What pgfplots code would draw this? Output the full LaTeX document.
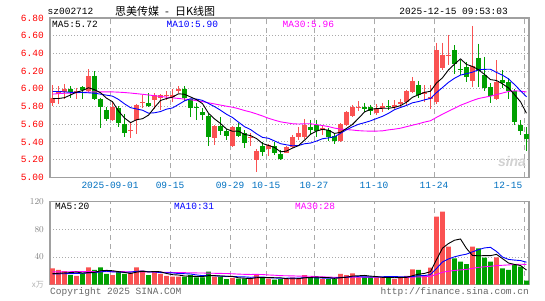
\documentclass[border=0pt]{standalone}
\usepackage{pgfplots}
\pgfplotsset{compat=1.18}
\usepackage{pgfplotstable}
\usepackage{fontspec}
\setmainfont{Liberation Mono}
\newfontfamily\cjk{Noto Sans CJK SC}
\newfontfamily\sans{Liberation Sans}
\newcommand{\fs}{\fontsize{9.5}{11}\selectfont}
\definecolor{cred}{RGB}{250,82,82}
\definecolor{cgreen}{RGB}{0,160,0}
\definecolor{cgrid}{RGB}{170,170,170}
\definecolor{cbox}{RGB}{160,160,160}
\definecolor{cdate}{RGB}{0,112,192}
\definecolor{cmag}{RGB}{255,0,255}

% red (close >= open) candles: k open high low close volume
\pgfplotstableread{
k O H L C V
0 5.84 6.04 5.80 5.90 23.7
1 5.94 6.03 5.83 5.98 21.3
2 5.96 6.05 5.88 6.00 19.8
4 5.96 6.01 5.89 5.97 12.6
6 5.98 6.22 5.96 6.14 25.1
10 5.65 5.85 5.64 5.79 14.0
13 5.52 5.62 5.44 5.53 17.4
14 5.65 5.83 5.49 5.82 25.1
15 5.84 5.93 5.78 5.85 20.3
17 5.87 5.95 5.77 5.93 18.8
18 5.90 5.94 5.76 5.93 15.5
19 5.92 5.97 5.87 5.93 12.6
20 5.91 6.00 5.85 5.93 11.6
21 5.97 6.03 5.95 6.00 11.6
27 5.44 5.59 5.37 5.58 11.6
30 5.35 5.58 5.34 5.57 9.7
33 5.44 5.50 5.35 5.46 8.7
34 5.20 5.32 5.06 5.30 14.5
36 5.32 5.38 5.24 5.36 8.7
39 5.28 5.35 5.27 5.34 8.2
40 5.34 5.48 5.33 5.46 10.6
41 5.45 5.57 5.42 5.50 9.2
42 5.46 5.66 5.43 5.59 14.0
45 5.53 5.59 5.48 5.56 8.2
48 5.41 5.61 5.40 5.60 15.5
49 5.59 5.75 5.58 5.74 14.0
50 5.69 5.82 5.68 5.79 16.4
51 5.78 5.86 5.75 5.79 10.6
54 5.73 5.83 5.70 5.78 10.6
55 5.78 5.84 5.74 5.81 10.6
57 5.79 5.87 5.77 5.82 8.2
58 5.83 5.89 5.78 5.85 11.6
59 5.85 5.99 5.82 5.97 12.6
60 5.96 6.13 5.95 6.09 22.2
62 5.94 6.04 5.85 5.96 14.0
63 5.88 6.04 5.77 5.91 24.6
64 5.85 6.52 5.83 6.44 98.4
65 6.23 6.52 6.21 6.38 105.5
66 6.37 6.61 6.27 6.38 55.0
70 6.09 6.71 6.02 6.26 55.0
74 5.89 6.32 5.87 6.08 39.6
}\redtab

% green (close < open) candles
\pgfplotstableread{
k O H L C V
3 6.00 6.03 5.90 5.96 14.0
5 6.02 6.03 5.89 5.99 16.4
7 6.15 6.20 5.87 5.89 21.3
8 5.88 5.90 5.56 5.79 25.1
9 5.76 5.79 5.64 5.66 15.5
11 5.78 5.80 5.57 5.61 18.8
12 5.60 5.71 5.45 5.50 15.5
16 5.84 5.95 5.79 5.81 14.0
22 6.00 6.03 5.86 5.90 11.6
23 5.88 5.89 5.68 5.78 14.0
24 5.79 5.84 5.65 5.78 10.6
25 5.74 5.78 5.65 5.70 10.6
26 5.69 5.72 5.35 5.46 18.8
28 5.58 5.68 5.48 5.52 11.6
29 5.52 5.55 5.42 5.47 8.2
31 5.57 5.61 5.46 5.47 8.7
32 5.50 5.53 5.33 5.39 8.7
35 5.35 5.40 5.24 5.29 11.1
37 5.35 5.40 5.25 5.28 7.3
38 5.26 5.31 5.19 5.21 8.2
43 5.57 5.65 5.48 5.54 10.6
44 5.59 5.65 5.45 5.52 10.6
46 5.53 5.56 5.41 5.45 8.2
47 5.47 5.50 5.38 5.41 8.2
52 5.79 5.84 5.74 5.77 10.6
53 5.79 5.82 5.70 5.75 10.6
56 5.80 5.87 5.76 5.79 10.6
61 6.04 6.09 5.90 5.93 21.3
67 6.44 6.49 6.17 6.28 38.1
68 6.22 6.33 6.16 6.21 33.3
69 6.25 6.30 6.08 6.13 29.9
71 6.35 6.51 6.02 6.20 52.6
72 6.16 6.36 5.98 6.01 39.1
73 6.02 6.06 5.84 5.92 33.3
75 6.10 6.21 6.01 6.07 23.7
76 6.08 6.12 5.89 5.97 21.3
77 5.98 6.00 5.59 5.63 28.5
78 5.59 5.65 5.48 5.52 26.0
79 5.49 5.57 5.30 5.43 5.8
}\greentab

% moving averages: price MA5/10/30, volume MA5/10/30
\pgfplotstableread{
k ma5 ma10 ma30 vma5 vma10 vma30
0 5.89 5.97 5.94 16.0 15.5 18.5
1 5.89 5.97 5.945 16.5 15.7 18.6
2 5.90 5.965 5.95 17.0 15.9 18.7
3 5.93 5.96 5.95 17.5 16.0 18.8
4 5.962 5.96 5.955 18.3 16.3 18.8
5 5.980 5.958 5.96 16.8 16.6 18.8
6 6.012 5.955 5.963 17.6 17.0 18.9
7 5.990 5.95 5.965 17.9 17.5 18.9
8 5.956 5.94 5.966 20.1 18.5 18.9
9 5.894 5.928 5.966 20.7 19.5 18.9
10 5.854 5.917 5.965 20.2 18.5 18.9
11 5.748 5.880 5.962 18.9 18.3 18.8
12 5.670 5.830 5.958 17.8 17.8 18.8
13 5.618 5.787 5.952 16.2 18.2 18.7
14 5.650 5.772 5.945 18.2 19.4 18.7
15 5.662 5.758 5.938 19.4 19.8 18.6
16 5.702 5.725 5.930 18.5 18.7 18.5
17 5.788 5.729 5.922 19.1 18.5 18.3
18 5.868 5.743 5.914 18.7 17.5 18.1
19 5.890 5.770 5.906 16.2 17.2 17.9
20 5.906 5.784 5.898 14.5 17.0 17.7
21 5.944 5.823 5.891 14.0 16.2 17.5
22 5.938 5.863 5.884 12.6 15.9 17.4
23 5.908 5.888 5.876 12.3 15.5 17.2
24 5.878 5.884 5.866 11.9 14.1 17.0
25 5.832 5.869 5.855 11.7 13.1 16.9
26 5.724 5.834 5.842 13.1 13.6 16.7
27 5.660 5.799 5.829 13.1 12.9 16.5
28 5.608 5.758 5.816 12.6 12.5 16.3
29 5.546 5.712 5.803 12.2 12.0 16.2
30 5.520 5.676 5.792 12.0 11.8 15.8
31 5.522 5.623 5.775 10.0 11.5 15.3
32 5.484 5.572 5.755 9.4 11.3 15.0
33 5.472 5.540 5.738 8.8 10.7 14.8
34 5.438 5.492 5.716 10.1 11.1 14.9
35 5.382 5.451 5.693 10.3 11.2 14.7
36 5.360 5.441 5.667 10.3 10.2 14.1
37 5.338 5.411 5.646 10.1 9.7 13.7
38 5.288 5.380 5.627 10.0 9.4 13.1
39 5.296 5.367 5.616 8.7 9.4 12.9
40 5.330 5.356 5.605 8.6 9.5 12.8
41 5.358 5.359 5.602 8.7 9.5 12.4
42 5.420 5.379 5.605 10.0 10.1 12.4
43 5.486 5.387 5.605 10.5 10.2 12.2
44 5.522 5.409 5.595 11.0 9.9 11.7
45 5.542 5.436 5.585 10.5 9.6 11.3
46 5.532 5.445 5.573 10.3 9.5 11.1
47 5.496 5.458 5.556 9.2 9.6 10.7
48 5.508 5.497 5.545 10.1 10.3 10.7
49 5.552 5.537 5.539 10.8 10.9 10.8
50 5.598 5.570 5.534 12.5 11.5 10.9
51 5.666 5.599 5.527 12.9 11.6 10.9
52 5.738 5.617 5.523 13.4 11.3 10.9
53 5.768 5.638 5.522 12.4 11.3 10.8
54 5.776 5.664 5.522 11.8 11.3 10.8
55 5.780 5.689 5.525 10.6 11.5 10.8
56 5.780 5.723 5.536 10.6 11.8 10.5
57 5.790 5.764 5.544 10.1 11.8 10.4
58 5.810 5.789 5.555 10.3 11.4 10.4
59 5.848 5.812 5.572 10.7 11.2 10.5
60 5.904 5.842 5.589 13.0 11.8 10.9
61 5.932 5.856 5.605 15.2 12.9 11.3
62 5.960 5.875 5.624 16.3 13.2 11.5
63 5.972 5.891 5.639 18.9 14.6 12.1
64 6.066 5.957 5.677 36.1 23.4 14.9
65 6.124 6.014 5.713 52.8 32.9 18.0
66 6.214 6.073 5.747 59.5 37.3 19.5
67 6.278 6.119 5.780 64.3 40.3 20.6
68 6.338 6.155 5.814 66.1 42.5 21.4
69 6.276 6.171 5.840 52.4 44.2 22.1
70 6.252 6.188 5.867 42.3 47.5 23.6
71 6.216 6.215 5.890 41.8 50.6 25.1
72 6.162 6.220 5.904 42.0 53.2 25.9
73 6.104 6.221 5.917 42.0 54.0 26.6
74 6.094 6.185 5.935 43.9 48.1 27.6
75 6.056 6.154 5.952 37.7 40.0 28.1
76 6.010 6.113 5.970 31.4 36.6 28.6
77 5.934 6.048 5.977 29.3 35.6 29.2
78 5.854 5.979 5.974 27.8 34.9 29.6
79 5.724 5.909 5.964 21.1 32.5 29.3
}\matab

\pgfplotsset{
  kbase/.style={
    scale only axis, width=479pt,
    xmin=-0.42, xmax=79.42,
    axis line style={draw=cbox, line width=1.2pt},
    major tick length=0pt, tick style={draw=none},
    xmajorgrids, ymajorgrids,
    x grid style={draw=cgrid, line width=0.9pt, dash pattern=on 5pt off 4pt},
    y grid style={draw=cgrid, line width=0.9pt, dash pattern=on 1pt off 2pt},
    xtick={9.583,19.583,29.583,35.583,43.583,53.583,63.583},
    extra x ticks={78.583},
    yticklabel style={font=\fs, anchor=east, inner sep=0pt, xshift=-6pt},
    xticklabel style={font=\fs, text=cdate, anchor=north, inner sep=0pt, yshift=-4.5pt},
  },
  wick/.style={draw=none, mark=none, forget plot,
    error bars/.cd, y dir=minus, y explicit, error mark=none,
    error bar style={draw=#1, line width=1pt}},
  body/.style={draw=none, mark=none, forget plot,
    error bars/.cd, y dir=minus, y explicit, error mark=none,
    error bar style={draw=#1, line width=4.8pt}},
}

\begin{document}
\begin{tikzpicture}[x=1pt,y=1pt]
\useasboundingbox (0,0) rectangle (545,300);

% price chart
\begin{axis}[kbase, at={(50pt,122.7pt)}, anchor=south west, height=159.3pt,
  ymin=5, ymax=6.8,
  ytick={5.0,5.2,5.4,5.6,5.8,6.0,6.2,6.4,6.6,6.8},
  yticklabels={5.00,5.20,5.40,5.60,5.80,6.00,6.20,6.40,6.60,6.80},
  yticklabel style={text=red},
  xticklabels={2025-09-01,09-15,09-29,10-15,10-27,11-10,11-24},
  extra x tick labels={12-15},
  extra x tick style={grid=major, xticklabel style={xshift=-16pt}},
]
\addplot[wick=cred] table[x=k, y=H, y error minus expr=\thisrow{H}-\thisrow{L}] {\redtab};
\addplot[wick=cgreen] table[x=k, y=H, y error minus expr=\thisrow{H}-\thisrow{L}] {\greentab};
\addplot[body=cred] table[x=k, y=C, y error minus expr=\thisrow{C}-\thisrow{O}] {\redtab};
\addplot[body=cgreen] table[x=k, y=O, y error minus expr=\thisrow{O}-\thisrow{C}] {\greentab};
\addplot[cmag, line width=0.9pt, mark=none] table[x=k, y=ma30] {\matab};
\addplot[blue, line width=0.9pt, mark=none] table[x=k, y=ma10] {\matab};
\addplot[black, line width=0.9pt, mark=none] table[x=k, y=ma5] {\matab};
\end{axis}

% volume chart
\begin{axis}[kbase, at={(50pt,15.3pt)}, anchor=south west, height=83pt,
  ymin=0, ymax=120,
  ytick={40,80,120},
  yticklabel style={text=gray},
  xticklabels={}, extra x tick labels={},
  extra x tick style={grid=major},
]
\addplot[ybar, bar width=4.8pt, bar shift=0pt, fill=cred, draw=none] table[x=k, y=V] {\redtab};
\addplot[ybar, bar width=4.8pt, bar shift=0pt, fill=cgreen, draw=none] table[x=k, y=V] {\greentab};
\addplot[cmag, line width=0.9pt, mark=none] table[x=k, y=vma30] {\matab};
\addplot[blue, line width=0.9pt, mark=none] table[x=k, y=vma10] {\matab};
\addplot[black, line width=0.9pt, mark=none] table[x=k, y=vma5] {\matab};
\end{axis}

% header
\node[anchor=west, inner sep=0pt] at (47.5,289) {\fs sz002712};
\node[anchor=west, inner sep=0pt] at (115,289) {\cjk\fontsize{11}{13}\selectfont 思美传媒\hspace{6pt}-\hspace{6pt}日K线图};
\node[anchor=east, inner sep=0pt] at (508,289) {\fs 2025-12-15 09:53:03};

% legends
\node[anchor=west, inner sep=0pt] at (52,276) {\fs MA5:5.72};
\node[anchor=west, inner sep=0pt, text=blue] at (166.5,276) {\fs MA10:5.90};
\node[anchor=west, inner sep=0pt, text=cmag] at (282.5,276) {\fs MA30:5.96};
\node[anchor=west, inner sep=0pt] at (55,94) {\fs MA5:20};
\node[anchor=west, inner sep=0pt, text=blue] at (174,94) {\fs MA10:31};
\node[anchor=west, inner sep=0pt, text=cmag] at (295,94) {\fs MA30:28};

% volume unit
\node[anchor=east, inner sep=0pt, text=gray!60] at (44,15) {\cjk\fontsize{8}{9}\selectfont x万};

% watermark
\node[inner sep=0pt, text=gray!35] at (512,139) {\sans\bfseries\itshape\fontsize{14}{14}\selectfont sina};

% footer
\node[anchor=west, inner sep=0pt, text=black!60] at (50,8) {\fs Copyright 2025 SINA.COM};
\node[anchor=east, inner sep=0pt, text=black!60] at (529,8) {\fs http://finance.sina.com.cn};
\end{tikzpicture}
\end{document}
